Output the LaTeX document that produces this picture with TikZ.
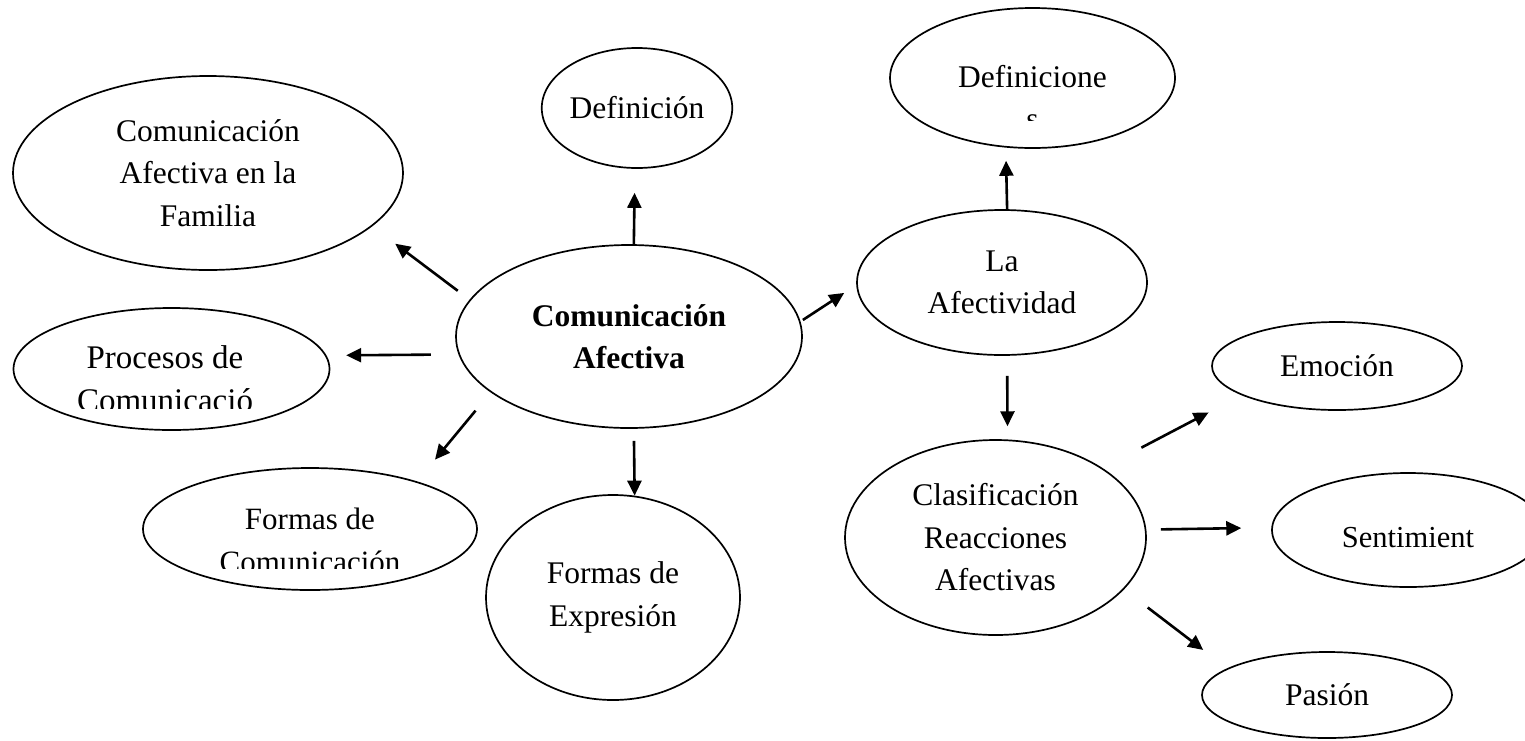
\documentclass[tikz,border=0pt]{standalone}
\usepackage{fontspec}
\setmainfont{Liberation Serif}
\usetikzlibrary{shapes.geometric,arrows.meta}

\begin{document}
\begin{tikzpicture}[x=1pt,y=-1pt,
    bubble/.style={draw, ellipse, line width=1.7pt, inner sep=0pt, align=center, font=\fontsize{#1}{42.5}\selectfont},
    bubble/.default=31.5,
    txt/.style={inner sep=0pt, align=center, font=\fontsize{#1}{42.5}\selectfont},
    txt/.default=31.5,
    arr/.style={-{Triangle[length=15pt,width=14pt]}, line width=2.6pt}]

  \useasboundingbox (0,0) rectangle (1525,740);

  % Draw the central bubble
  \node[bubble, minimum width=346pt, minimum height=183pt] (ca) at (629,336.5) {\textbf{Comunicación}\\\textbf{Afectiva}};

  % Left side bubbles
  \node[bubble, minimum width=390pt, minimum height=194pt] (fam) at (208,173) {Comunicación\\Afectiva en la\\Familia};
  \node[bubble, minimum width=182pt, minimum height=120pt] (def) at (637,108) {Definición};
  \node[bubble, minimum width=316pt, minimum height=122pt] (proc) at (171.5,369) {};
  \node[bubble, minimum width=334pt, minimum height=122pt] (fcom) at (310,529) {};
  \node[bubble, minimum width=254pt, minimum height=205pt] (fexp) at (613,597.5) {Formas de\\Expresión};

  % Right side bubbles
  \node[bubble, minimum width=290pt, minimum height=145pt] (afe) at (1002,282.5) {La\\Afectividad};
  \node[bubble, minimum width=285pt, minimum height=140pt] (defs) at (1032.5,78) {};
  \node[bubble, minimum width=301pt, minimum height=195pt] (clas) at (995.5,537.5) {Clasificación\\Reacciones\\Afectivas};
  \node[bubble, minimum width=250pt, minimum height=88pt] (emo) at (1337,366) {Emoción};
  \node[bubble=30.5, minimum width=272pt, minimum height=114pt, text height=34pt, text depth=0pt] (sen) at (1408,530) {Sentimient};
  \node[bubble, minimum width=250pt, minimum height=86pt] (pas) at (1327,695) {Pasión};

  % Texts cut off by their boxes
  \begin{scope}
    \clip (880,0) rectangle (1180,120);
    \node[txt, yshift=-19.5pt] (defs-t) at (defs) {Definicione\\s};
  \end{scope}
  \begin{scope}
    \clip (0,300) rectangle (340,408);
    \node[txt=33, xshift=-6.5pt, yshift=-9.6pt] (proc-t) at (proc) {Procesos de\\Comunicació};
  \end{scope}
  \begin{scope}
    \clip (140,460) rectangle (480,568);
    \node[txt=31, yshift=-11.5pt] (fcom-t) at (fcom) {Formas de\\Comunicación};
  \end{scope}

  % Arrows
  \draw[arr, shorten <=14.8pt, shorten >=28.8pt] (ca.167.8) -- (fam.-18.9);
  \draw[arr, shorten <=27.6pt, shorten >=19.7pt] (ca.186.2) -- (proc.5.2);
  \draw[arr, shorten <=23.7pt, shorten >=28.2pt] (ca.202) -- (fcom.24.5);
  \draw[arr, shorten >=24pt] (ca.87.5) -- (def.-92.9);
  \draw[arr, shorten <=12pt] (ca.-87.5) -- (fexp.78.8);
  \draw[arr, shorten <=2.8pt, shorten >=14.4pt] (ca.5) -- (afe.181.1);
  \draw[arr, shorten >=13.2pt] (afe.86.8) -- (defs.-111.1);
  \draw[arr, shorten <=20pt, shorten >=13.2pt] (afe.-86.8) -- (clas.83.8);
  \draw[arr, shorten <=43.8pt, shorten >=37.1pt] (clas.33.4) -- (emo.197.2);
  \draw[arr, shorten <=14.6pt, shorten >=30pt] (clas.3.25) -- (sen.179.6);
  \draw[arr, shorten <=29.8pt, shorten >=30.2pt] (clas.-22.55) -- (pas.165.5);
\end{tikzpicture}
\end{document}
